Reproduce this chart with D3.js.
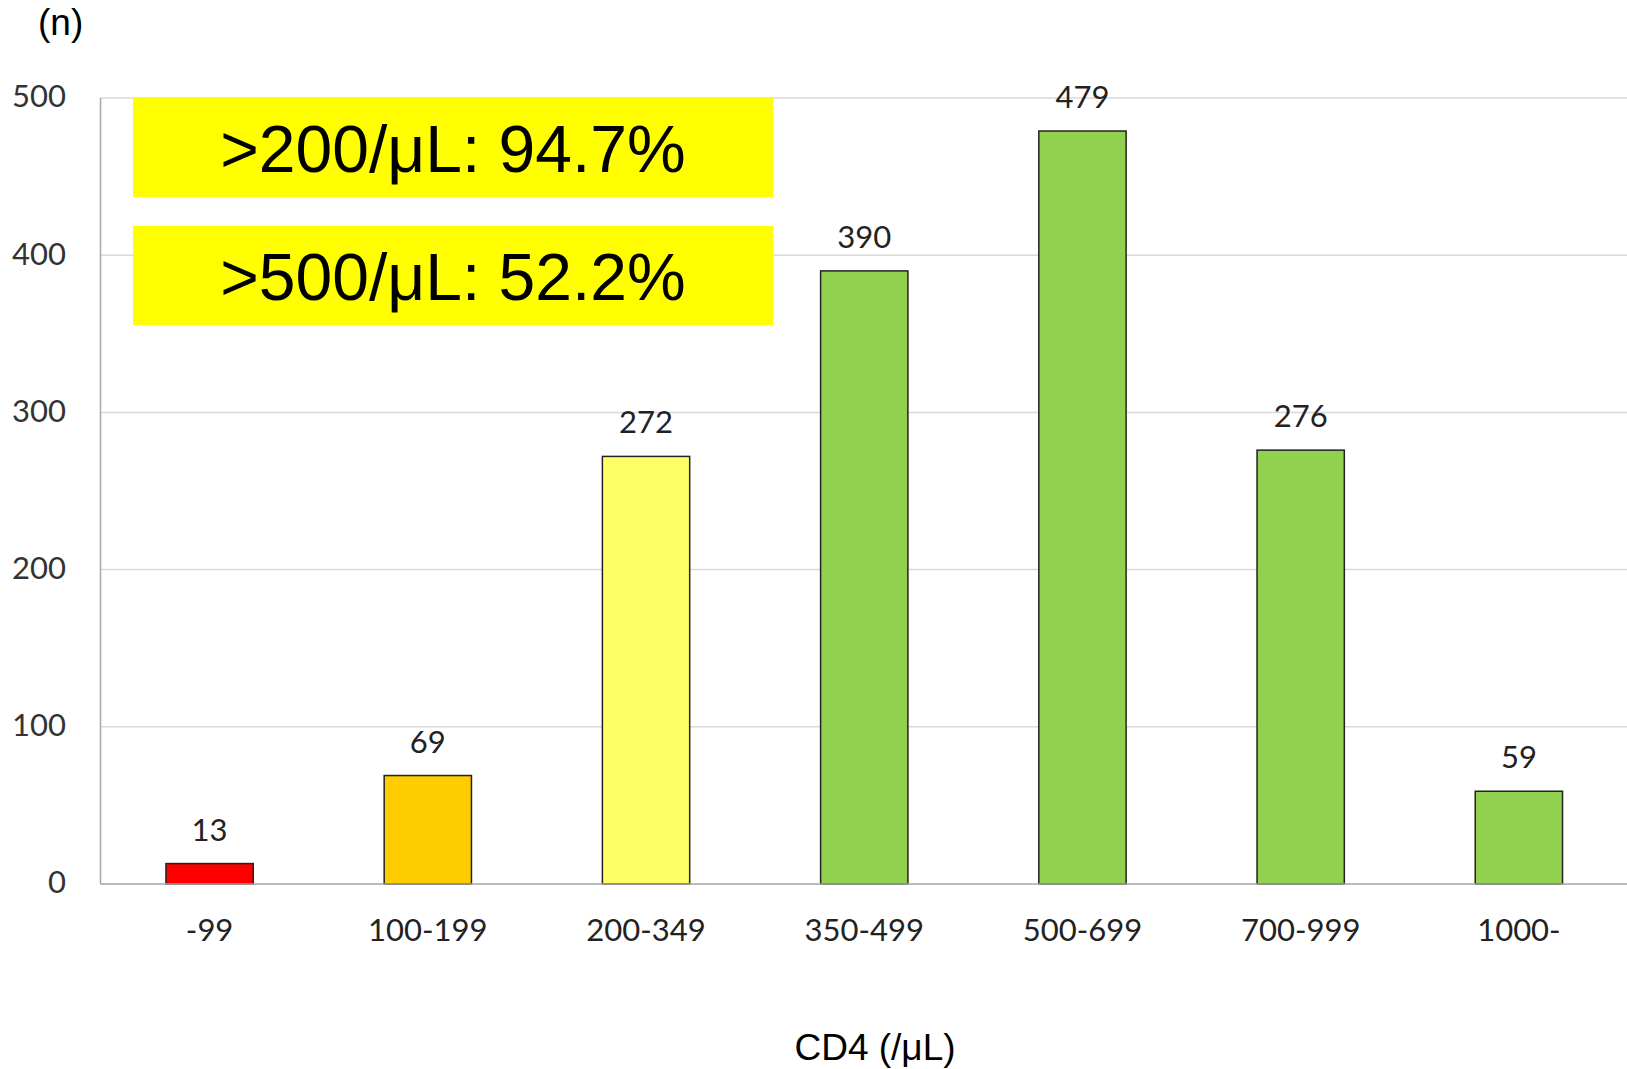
<!DOCTYPE html>
<html>
<head>
<meta charset="utf-8">
<script src="https://cdn.jsdelivr.net/npm/d3@7"></script>
<style>
  body { margin: 0; background: #fff; }
  svg { display: block; }
</style>
</head>
<body>
<svg width="1627" height="1069"></svg>
<script>
// data
var categories = ["-99", "100-199", "200-349", "350-499", "500-699", "700-999", "1000-"];
var counts = [13, 69, 272, 390, 479, 276, 59];
var barColors = ["#ff0000", "#ffcc00", "#ffff66", "#92d050", "#92d050", "#92d050", "#92d050"];
var yTicks = [0, 100, 200, 300, 400, 500];
var notes = [">200/\u03bcL: 94.7%", ">500/\u03bcL: 52.2%"];

var svg = d3.select("svg"),
    width = +svg.attr("width"),
    height = +svg.attr("height");

var plotLeft = 100.5, plotRight = 1628, plotTop = 98, plotBottom = 884;

var x = d3.scaleBand()
    .domain(categories)
    .range([plotLeft, plotRight])
    .paddingInner(0.6)
    .paddingOuter(0.3);

var y = d3.scaleLinear()
    .domain([0, 500])
    .range([plotBottom, plotTop]);

// gridlines
svg.selectAll(".grid")
    .data(yTicks.filter(d => d > 0))
    .enter().append("line")
    .attr("class", "grid")
    .attr("x1", plotLeft)
    .attr("x2", plotRight)
    .attr("y1", d => y(d))
    .attr("y2", d => y(d))
    .style("stroke", "#d9d9d9")
    .style("stroke-width", 1.5);

// y tick labels
svg.selectAll(".ytick")
    .data(yTicks)
    .enter().append("text")
    .attr("class", "ytick")
    .attr("x", 66)
    .attr("y", d => y(d))
    .attr("dy", "0.3em")
    .style("text-anchor", "end")
    .style("font-family", "Lato")
    .style("font-size", "31px")
    .style("fill", "#333")
    .text(d => d);

// bars
var data = categories.map((c, i) => ({ cat: c, n: counts[i], color: barColors[i] }));

svg.selectAll(".bar")
    .data(data)
    .enter().append("rect")
    .attr("class", "bar")
    .attr("x", d => x(d.cat))
    .attr("y", d => y(d.n))
    .attr("width", x.bandwidth())
    .attr("height", d => y(0) - y(d.n))
    .style("fill", d => d.color)
    .style("stroke", "#222")
    .style("stroke-width", 1.5);

// value labels
svg.selectAll(".val")
    .data(data)
    .enter().append("text")
    .attr("class", "val")
    .attr("x", d => x(d.cat) + x.bandwidth() / 2)
    .attr("y", d => y(d.n) - 23)
    .style("text-anchor", "middle")
    .style("font-family", "Lato")
    .style("font-size", "31px")
    .style("fill", "#222")
    .text(d => d.n);

// axis lines
svg.append("line")
    .attr("x1", plotLeft).attr("x2", plotLeft)
    .attr("y1", plotTop).attr("y2", plotBottom)
    .style("stroke", "#a6a6a6")
    .style("stroke-width", 1.5);
svg.append("line")
    .attr("x1", plotLeft).attr("x2", plotRight)
    .attr("y1", plotBottom).attr("y2", plotBottom)
    .style("stroke", "#a6a6a6")
    .style("stroke-width", 1.5);

// category labels
svg.selectAll(".xtick")
    .data(categories)
    .enter().append("text")
    .attr("class", "xtick")
    .attr("x", d => x(d) + x.bandwidth() / 2)
    .attr("y", 930)
    .attr("dy", "0.34em")
    .style("text-anchor", "middle")
    .style("font-family", "Lato")
    .style("font-size", "31px")
    .style("fill", "#222")
    .text(d => d);

// yellow note boxes
var boxTop = [98, 226];
notes.forEach(function(t, i) {
    svg.append("rect")
        .attr("x", 133)
        .attr("y", boxTop[i])
        .attr("width", 640)
        .attr("height", 99)
        .style("fill", "#ffff00");
    svg.append("text")
        .attr("x", 453)
        .attr("y", boxTop[i] + 74)
        .style("text-anchor", "middle")
        .style("font-family", "Liberation Sans")
        .style("font-size", "66px")
        .style("fill", "#000")
        .text(t);
});

// axis titles
svg.append("text")
    .attr("x", 38)
    .attr("y", 35)
    .style("font-family", "Liberation Sans")
    .style("font-size", "37px")
    .style("fill", "#000")
    .text("(n)");

svg.append("text")
    .attr("x", 875)
    .attr("y", 1060)
    .style("text-anchor", "middle")
    .style("font-family", "Liberation Sans")
    .style("font-size", "37px")
    .style("fill", "#000")
    .text("CD4 (/\u03bcL)");
</script>
</body>
</html>
